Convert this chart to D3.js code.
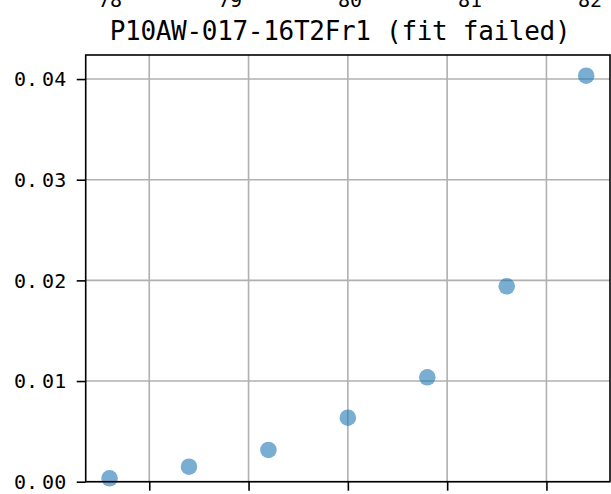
<!DOCTYPE html>
<html>
<head>
<meta charset="utf-8">
<script src="https://cdn.jsdelivr.net/npm/d3@7"></script>
<style>
  html, body { margin: 0; padding: 0; background: #fff; }
  svg { display: block; }
  text { font-family: "DejaVu Sans Mono", "Liberation Mono", monospace; fill: #000; }
</style>
</head>
<body>
<svg id="chart" width="611" height="494"></svg>
<script>
// ---- data ----
const title = "P10AW-017-16T2Fr1 (fit failed)";
const xValues = [0.6, 1.4, 2.2, 3.0, 3.8, 4.6, 5.4];
const yValues = [0.00034, 0.00149, 0.00315, 0.00636, 0.01037, 0.01941, 0.04033];
const xTicks = [1, 2, 3, 4, 5];
const yTicks = [0.00, 0.01, 0.02, 0.03, 0.04];
const yTickLabels = ["0.00", "0.01", "0.02", "0.03", "0.04"];
// tick labels of the neighbouring panel above (cut off at the top edge)
const aboveTicks = [78, 79, 80, 81, 82];

// ---- layout ----
const svg = d3.select("#chart");
const pLeft = 85.7, pRight = 610, pTop = 55, pBottom = 481.7;

const x = d3.scaleLinear().domain([0.36, 5.64]).range([pLeft, pRight]);
const y = d3.scaleLinear().domain([0, 0.04239]).range([pBottom, pTop]);
const xAbove = d3.scaleLinear().domain([78, 82]).range([110, 590]);

const gridColor = "#b0b0b0";

// grid
svg.append("g").selectAll("line").data(xTicks).join("line")
  .attr("x1", d => x(d)).attr("x2", d => x(d))
  .attr("y1", pTop).attr("y2", pBottom)
  .attr("stroke", gridColor).attr("stroke-width", 1.6);
svg.append("g").selectAll("line").data(yTicks).join("line")
  .attr("x1", pLeft).attr("x2", pRight)
  .attr("y1", d => y(d)).attr("y2", d => y(d))
  .attr("stroke", gridColor).attr("stroke-width", 1.6);

// points
svg.append("g").selectAll("circle").data(xValues.map((v, i) => [v, yValues[i]])).join("circle")
  .attr("cx", d => x(d[0])).attr("cy", d => y(d[1]))
  .attr("r", 8.3)
  .attr("fill", "#1f77b4").attr("fill-opacity", 0.6);

// axes (ticks only, custom labels)
const xAxis = svg.append("g").attr("transform", `translate(0,${pBottom})`)
  .call(d3.axisBottom(x).tickValues(xTicks).tickSize(9).tickFormat(""));
const yAxis = svg.append("g").attr("transform", `translate(${pLeft},0)`)
  .call(d3.axisLeft(y).tickValues(yTicks).tickSize(9).tickFormat(""));
[xAxis, yAxis].forEach(g => {
  g.select(".domain").remove();
  g.selectAll(".tick line").attr("stroke", "#000").attr("stroke-width", 1.6);
});

// y tick labels
const yl = svg.append("g").selectAll("text").data(yTicks).join("text")
  .attr("x", 14)
  .attr("y", d => y(d) + 7.4)
  .attr("font-size", 20);
yl.each(function(d, i) {
  const s = yTickLabels[i];
  const t = d3.select(this);
  t.append("tspan").text(s.slice(0, 2));
  t.append("tspan").attr("dx", 4).text(s.slice(2));
});

// spines
svg.append("rect")
  .attr("x", pLeft).attr("y", pTop)
  .attr("width", pRight - pLeft).attr("height", pBottom - pTop)
  .attr("fill", "none").attr("stroke", "#000").attr("stroke-width", 1.6);

// title
svg.append("text")
  .attr("x", 340).attr("y", 39.5)
  .attr("text-anchor", "middle")
  .attr("font-size", 26)
  .attr("letter-spacing", "-0.3px")
  .text(title);

// neighbouring panel tick labels, cut off at the top
svg.append("g").selectAll("text").data(aboveTicks).join("text")
  .attr("x", d => xAbove(d)).attr("y", 6.5)
  .attr("text-anchor", "middle")
  .attr("font-size", 20)
  .text(d => d);
</script>
</body>
</html>
